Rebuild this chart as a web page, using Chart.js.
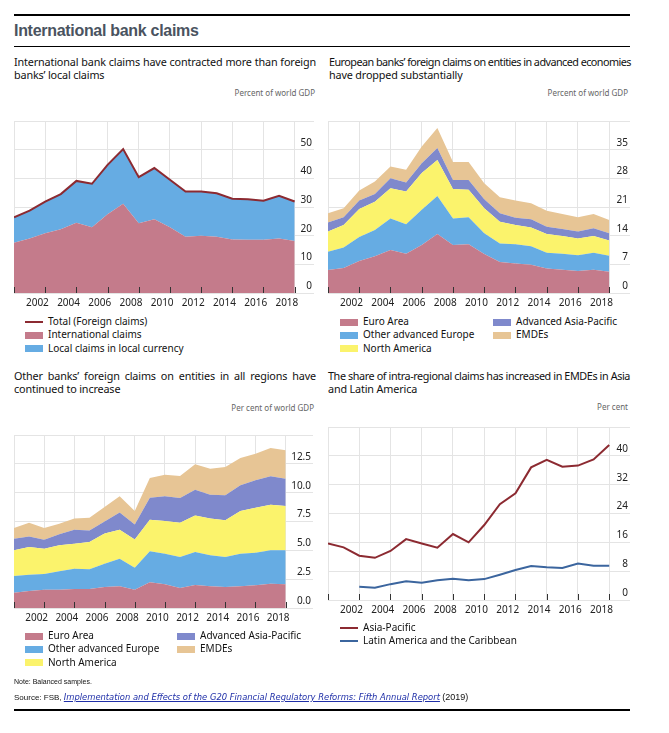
<!DOCTYPE html>
<html><head><meta charset="utf-8">
<script src="https://cdn.jsdelivr.net/npm/chart.js@4.4.1/dist/chart.umd.min.js"></script>
<style>
body{margin:0;width:669px;height:733px;background:#fff;position:relative;font-family:"Noto Sans",sans-serif;color:#111;overflow:hidden}
.rule{position:absolute;left:14px;width:616px;background:#000}
.title{position:absolute;left:14px;top:22px;font:bold 16px "Liberation Sans",Arial,sans-serif;color:#4a5360;letter-spacing:-0.3px;margin:0}
.sub{position:absolute;font-size:10.8px;line-height:13.3px;width:302px;color:#111;letter-spacing:-0.15px}
.sub .j{white-space:nowrap}
.unit{position:absolute;font-size:8px;color:#666;text-align:right;width:200px}
canvas{position:absolute}
.leg{position:absolute;font-size:10px;line-height:13.4px;color:#111}
.leg .it{position:absolute;white-space:nowrap}
.leg .sw{position:absolute;width:18px;height:7px;top:3.5px}
.leg .ln{position:absolute;width:18px;height:2px;top:6px}
.leg .tx{position:absolute;left:23px;top:0}
.note{position:absolute;left:14px;top:678px;font:7px "Liberation Sans",Arial,sans-serif;color:#111}
.src{position:absolute;left:14px;top:692px;font:8px "Liberation Sans",Arial,sans-serif;color:#111;white-space:nowrap}
.src a{font-family:"DejaVu Sans",sans-serif;font-style:italic;font-size:8.4px;color:#1f2fa8;text-decoration:underline}
.src .yr{font-size:9px}
</style></head>
<body>
<div class="rule" style="top:14px;height:2px"></div>
<h1 class="title">International bank claims</h1>
<div class="rule" style="top:46px;height:1px"></div>

<div class="sub" style="left:14px;top:55px"><div class="j">International bank claims have contracted more than foreign</div><div>banks’ local claims</div></div>
<div class="unit" style="left:115px;top:87px">Percent of world GDP</div>
<div class="sub" style="left:329px;top:55px"><div class="j">European banks’ foreign claims on entities in advanced economies</div><div>have dropped substantially</div></div>
<div class="unit" style="left:428px;top:87px">Percent of world GDP</div>

<div class="sub" style="left:14px;top:369px"><div class="j">Other banks’ foreign claims on entities in all regions have</div><div>continued to increase</div></div>
<div class="unit" style="left:114px;top:402px">Per cent of world GDP</div>
<div class="sub" style="left:328px;top:369px"><div class="j">The share of intra-regional claims has increased in EMDEs in Asia</div><div>and Latin America</div></div>
<div class="unit" style="left:428px;top:401px">Per cent</div>

<canvas id="c1" width="300" height="192" style="left:14px;top:121px"></canvas>
<canvas id="c2" width="302" height="192" style="left:328px;top:121px"></canvas>
<canvas id="c3" width="299" height="193" style="left:14px;top:435px"></canvas>
<canvas id="c4" width="302" height="193" style="left:328px;top:427px"></canvas>

<div class="leg" id="l1" style="left:25px;top:315px"></div>
<div class="leg" id="l2" style="left:340px;top:315px"></div>
<div class="leg" id="l3" style="left:25px;top:629px"></div>
<div class="leg" id="l4" style="left:340px;top:621px"></div>

<div class="note">Note: Balanced samples.</div>
<div class="src">Source: FSB, <a>Implementation and Effects of the G20 Financial Regulatory Reforms: Fifth Annual Report</a> <span class="yr">(2019)</span></div>
<div class="rule" style="top:709px;height:2px"></div>

<script>
// ---------- data ----------
const years = [2000,2001,2002,2003,2004,2005,2006,2007,2008,2009,2010,2011,2012,2013,2014,2015,2016,2017,2018];

// Panel 1: International bank claims (% of world GDP)
const p1Total = [26.4,28.7,31.9,34.5,39.1,38.1,44.7,50.2,40.4,43.6,39.5,35.4,35.4,34.8,32.9,32.7,32.2,33.9,31.9];
const p1International = [17.5,19.0,20.8,22.2,24.5,22.9,27.5,31.1,24.3,25.7,22.9,19.6,20.0,19.6,18.7,18.6,18.6,19.0,18.1];
const p1Local = [8.9,9.7,11.1,12.3,14.6,15.2,17.2,19.1,16.1,17.9,16.6,15.8,15.4,15.2,14.2,14.1,13.6,14.9,13.8];

// Panel 2: European banks' foreign claims
const p2EuroArea = [5.6,6.1,7.8,9.0,10.5,9.6,11.7,14.4,11.7,11.9,9.5,7.6,7.2,6.9,6.0,5.7,5.4,5.7,5.2];
const p2OtherEurope = [4.5,5.0,5.9,6.4,7.7,7.2,8.6,9.3,6.5,6.6,5.1,4.5,4.7,4.5,3.8,3.9,3.8,4.1,3.9];
const p2NorthAmerica = [4.9,5.5,6.8,6.9,7.4,8.0,9.0,8.8,7.2,6.7,6.1,5.3,4.7,4.6,4.6,4.3,4.1,4.1,3.7];
const p2AsiaPacific = [2.2,1.9,2.1,1.9,2.4,2.2,2.4,2.9,2.2,2.4,2.2,2.1,1.8,2.0,1.8,1.7,1.7,1.9,1.8];
const p2EMDEs = [2.3,2.2,2.4,3.0,2.9,3.1,4.1,4.9,4.4,4.4,3.9,3.9,4.2,3.9,3.9,3.7,3.5,3.5,3.2];

// Panel 3: Other banks' foreign claims
const p3EuroArea = [1.33,1.47,1.59,1.59,1.65,1.65,1.82,1.88,1.59,2.23,2.05,1.73,1.99,1.88,1.82,1.88,1.97,2.11,2.05];
const p3OtherEurope = [1.44,1.42,1.36,1.59,1.76,1.70,2.02,2.40,1.91,2.68,2.66,2.69,2.87,2.69,2.60,2.83,2.83,2.89,2.95];
const p3NorthAmerica = [2.23,2.40,2.19,2.25,2.17,2.37,2.61,2.51,2.45,2.75,2.83,2.98,3.17,3.18,3.18,3.70,3.90,3.96,3.84];
const p3AsiaPacific = [1.01,0.92,0.78,0.96,1.21,1.01,1.06,1.48,1.30,1.91,2.14,2.14,2.23,2.08,2.17,2.23,2.37,2.46,2.37];
const p3EMDEs = [0.93,1.19,1.02,0.92,0.96,1.10,1.25,1.41,1.16,1.70,1.88,1.91,2.20,2.25,2.46,2.37,2.31,2.45,2.46];

// Panel 4: Share of intra-regional claims (per cent)
const p4AsiaPacific = [15.7,14.6,12.3,11.7,13.6,16.9,15.7,14.5,18.3,16.0,20.8,26.6,29.6,36.8,38.9,37.0,37.3,39.0,43.0];
const p4LatAm = [null,null,3.7,3.4,4.4,5.2,4.8,5.5,5.9,5.5,5.8,7.0,8.3,9.4,9.1,8.9,10.1,9.5,9.5];

// axis tick values
const xTickYears = [2000,2002,2004,2006,2008,2010,2012,2014,2016,2018];
const p1YTicks = [0,10,20,30,40,50,60];
const p2YTicks = [0,7,14,21,28,35,42];
const p3YTicks = [0,2.5,5,7.5,10,12.5,15];
const p4YTicks = [0,8,16,24,32,40,48];

// ---------- justify first subtitle lines ----------
document.querySelectorAll('.sub .j').forEach(el=>{
  const target = 302;
  const txt = el.textContent;
  el.textContent = '';
  const span = document.createElement('span');
  span.textContent = txt; el.appendChild(span);
  const w = span.getBoundingClientRect().width;
  const gaps = (txt.match(/ /g) || []).length;
  let ws = (target - w) / gaps;
  if (ws < 0) {
    const ls = (target - w) / txt.length;
    span.style.letterSpacing = (ls - 0.15) + 'px';
    ws = 0;
  }
  span.style.wordSpacing = ws + 'px';
});

// ---------- styles ----------
const C = {pink:'#c47b8b', blue:'#66ace3', yellow:'#fbf36c', purple:'#7f89cc', tan:'#e7c595', red:'#8c2a31', navy:'#3b659e'};
const GRID = '#e4e4e4';
const FONT = '"Noto Sans", sans-serif';

const pts = arr => arr.map((v,i)=>({x:years[i], y:v}));
const area = (label, arr, color, first) => ({label, data:pts(arr), backgroundColor:color, borderColor:color, borderWidth:0, fill: first ? 'origin' : '-1', stack:'s'});

const tickMarks = {
  id:'tickMarks',
  afterDatasetsDraw(chart){
    const xs = chart.scales.x, ca = chart.chartArea, ctx = chart.ctx;
    ctx.save(); ctx.strokeStyle = '#333'; ctx.lineWidth = 1;
    xTickYears.forEach(v=>{
      const px = Math.round(xs.getPixelForValue(v)) + 0.5;
      ctx.beginPath(); ctx.moveTo(px, ca.bottom); ctx.lineTo(px, ca.bottom - 6); ctx.stroke();
    });
    ctx.restore();
  }
};

function makeChart(id, datasets, xMax, yTicks, yFmt, halfYear, stacked){
  const yMax = yTicks[yTicks.length-1];
  return new Chart(document.getElementById(id), {
    type:'line',
    data:{datasets},
    options:{
      responsive:false, animation:false,
      layout:{padding:0},
      plugins:{legend:{display:false}, tooltip:{enabled:false}},
      elements:{point:{radius:0}, line:{tension:0}},
      scales:{
        x:{type:'linear', min:2000, max:xMax,
          afterBuildTicks(s){ s.ticks = xTickYears.map(v=>({value:v})).concat([{value:xMax}]); },
          afterFit(s){ s.height = 20; s.paddingLeft = 0; s.paddingRight = 0; },
          grid:{color:GRID, drawTicks:false}, border:{display:false},
          ticks:{autoSkip:false, maxRotation:0, padding:4, labelOffset:-halfYear, color:'#222', font:{family:FONT, size:10},
            callback:(v)=> (v>=2002 && v<=2018) ? String(v) : ''}
        },
        y:{type:'linear', position:'right', min:0, max:yMax, stacked:stacked,
          afterBuildTicks(s){ s.ticks = yTicks.map(v=>({value:v})); },
          afterFit(s){ s.width = 0; s.paddingTop = 0; s.paddingBottom = 0; },
          grid:{color:GRID, drawTicks:false}, border:{display:false},
          ticks:{mirror:true, padding:-2, labelOffset:-7, color:'#222', font:{family:FONT, size:10},
            callback:(v)=> v>=yMax ? '' : yFmt(v)}
        }
      }
    },
    plugins:[tickMarks]
  });
}

const fInt = v => String(v);
const f1 = v => v.toFixed(1);

makeChart('c1', [
  {label:'Total (Foreign claims)', data:pts(p1Total), borderColor:C.red, borderWidth:2, fill:false, stack:'t'},
  area('International claims', p1International, C.pink, true),
  area('Local claims in local currency', p1Local, C.blue, false)
], 2019.24, p1YTicks, fInt, 7.8, true);

makeChart('c2', [
  area('Euro Area', p2EuroArea, C.pink, true),
  area('Other advanced Europe', p2OtherEurope, C.blue, false),
  area('North America', p2NorthAmerica, C.yellow, false),
  area('Advanced Asia-Pacific', p2AsiaPacific, C.purple, false),
  area('EMDEs', p2EMDEs, C.tan, false)
], 2019.33, p2YTicks, fInt, 7.8, true);

makeChart('c3', [
  area('Euro Area', p3EuroArea, C.pink, true),
  area('Other advanced Europe', p3OtherEurope, C.blue, false),
  area('North America', p3NorthAmerica, C.yellow, false),
  area('Advanced Asia-Pacific', p3AsiaPacific, C.purple, false),
  area('EMDEs', p3EMDEs, C.tan, false)
], 2019.81, p3YTicks, f1, 7.55, true);

makeChart('c4', [
  {label:'Asia-Pacific', data:pts(p4AsiaPacific), borderColor:C.red, borderWidth:2, fill:false},
  {label:'Latin America and the Caribbean', data:pts(p4LatAm), borderColor:C.navy, borderWidth:2, fill:false}
], 2019.33, p4YTicks, fInt, 7.8, false);

// ---------- legends (HTML) ----------
function legend(id, items, colX){
  const el = document.getElementById(id);
  items.forEach(it=>{
    const d = document.createElement('div'); d.className = 'it';
    d.style.left = (colX[it.col] || 0) + 'px'; d.style.top = (it.row * 13.4) + 'px';
    const s = document.createElement('div'); s.className = it.line ? 'ln' : 'sw'; s.style.background = it.color;
    const t = document.createElement('div'); t.className = 'tx'; t.textContent = it.label;
    d.appendChild(s); d.appendChild(t); el.appendChild(d);
  });
}
legend('l1', [
  {label:'Total (Foreign claims)', color:C.red, line:true, col:0, row:0},
  {label:'International claims', color:C.pink, col:0, row:1},
  {label:'Local claims in local currency', color:C.blue, col:0, row:2}
], [0]);
const regionLegend = [
  {label:'Euro Area', color:C.pink, col:0, row:0},
  {label:'Other advanced Europe', color:C.blue, col:0, row:1},
  {label:'North America', color:C.yellow, col:0, row:2},
  {label:'Advanced Asia-Pacific', color:C.purple, col:1, row:0},
  {label:'EMDEs', color:C.tan, col:1, row:1}
];
legend('l2', regionLegend, [0, 153]);
legend('l3', regionLegend, [0, 152]);
legend('l4', [
  {label:'Asia-Pacific', color:C.red, line:true, col:0, row:0},
  {label:'Latin America and the Caribbean', color:C.navy, line:true, col:0, row:1}
], [0]);
</script>
</body></html>
